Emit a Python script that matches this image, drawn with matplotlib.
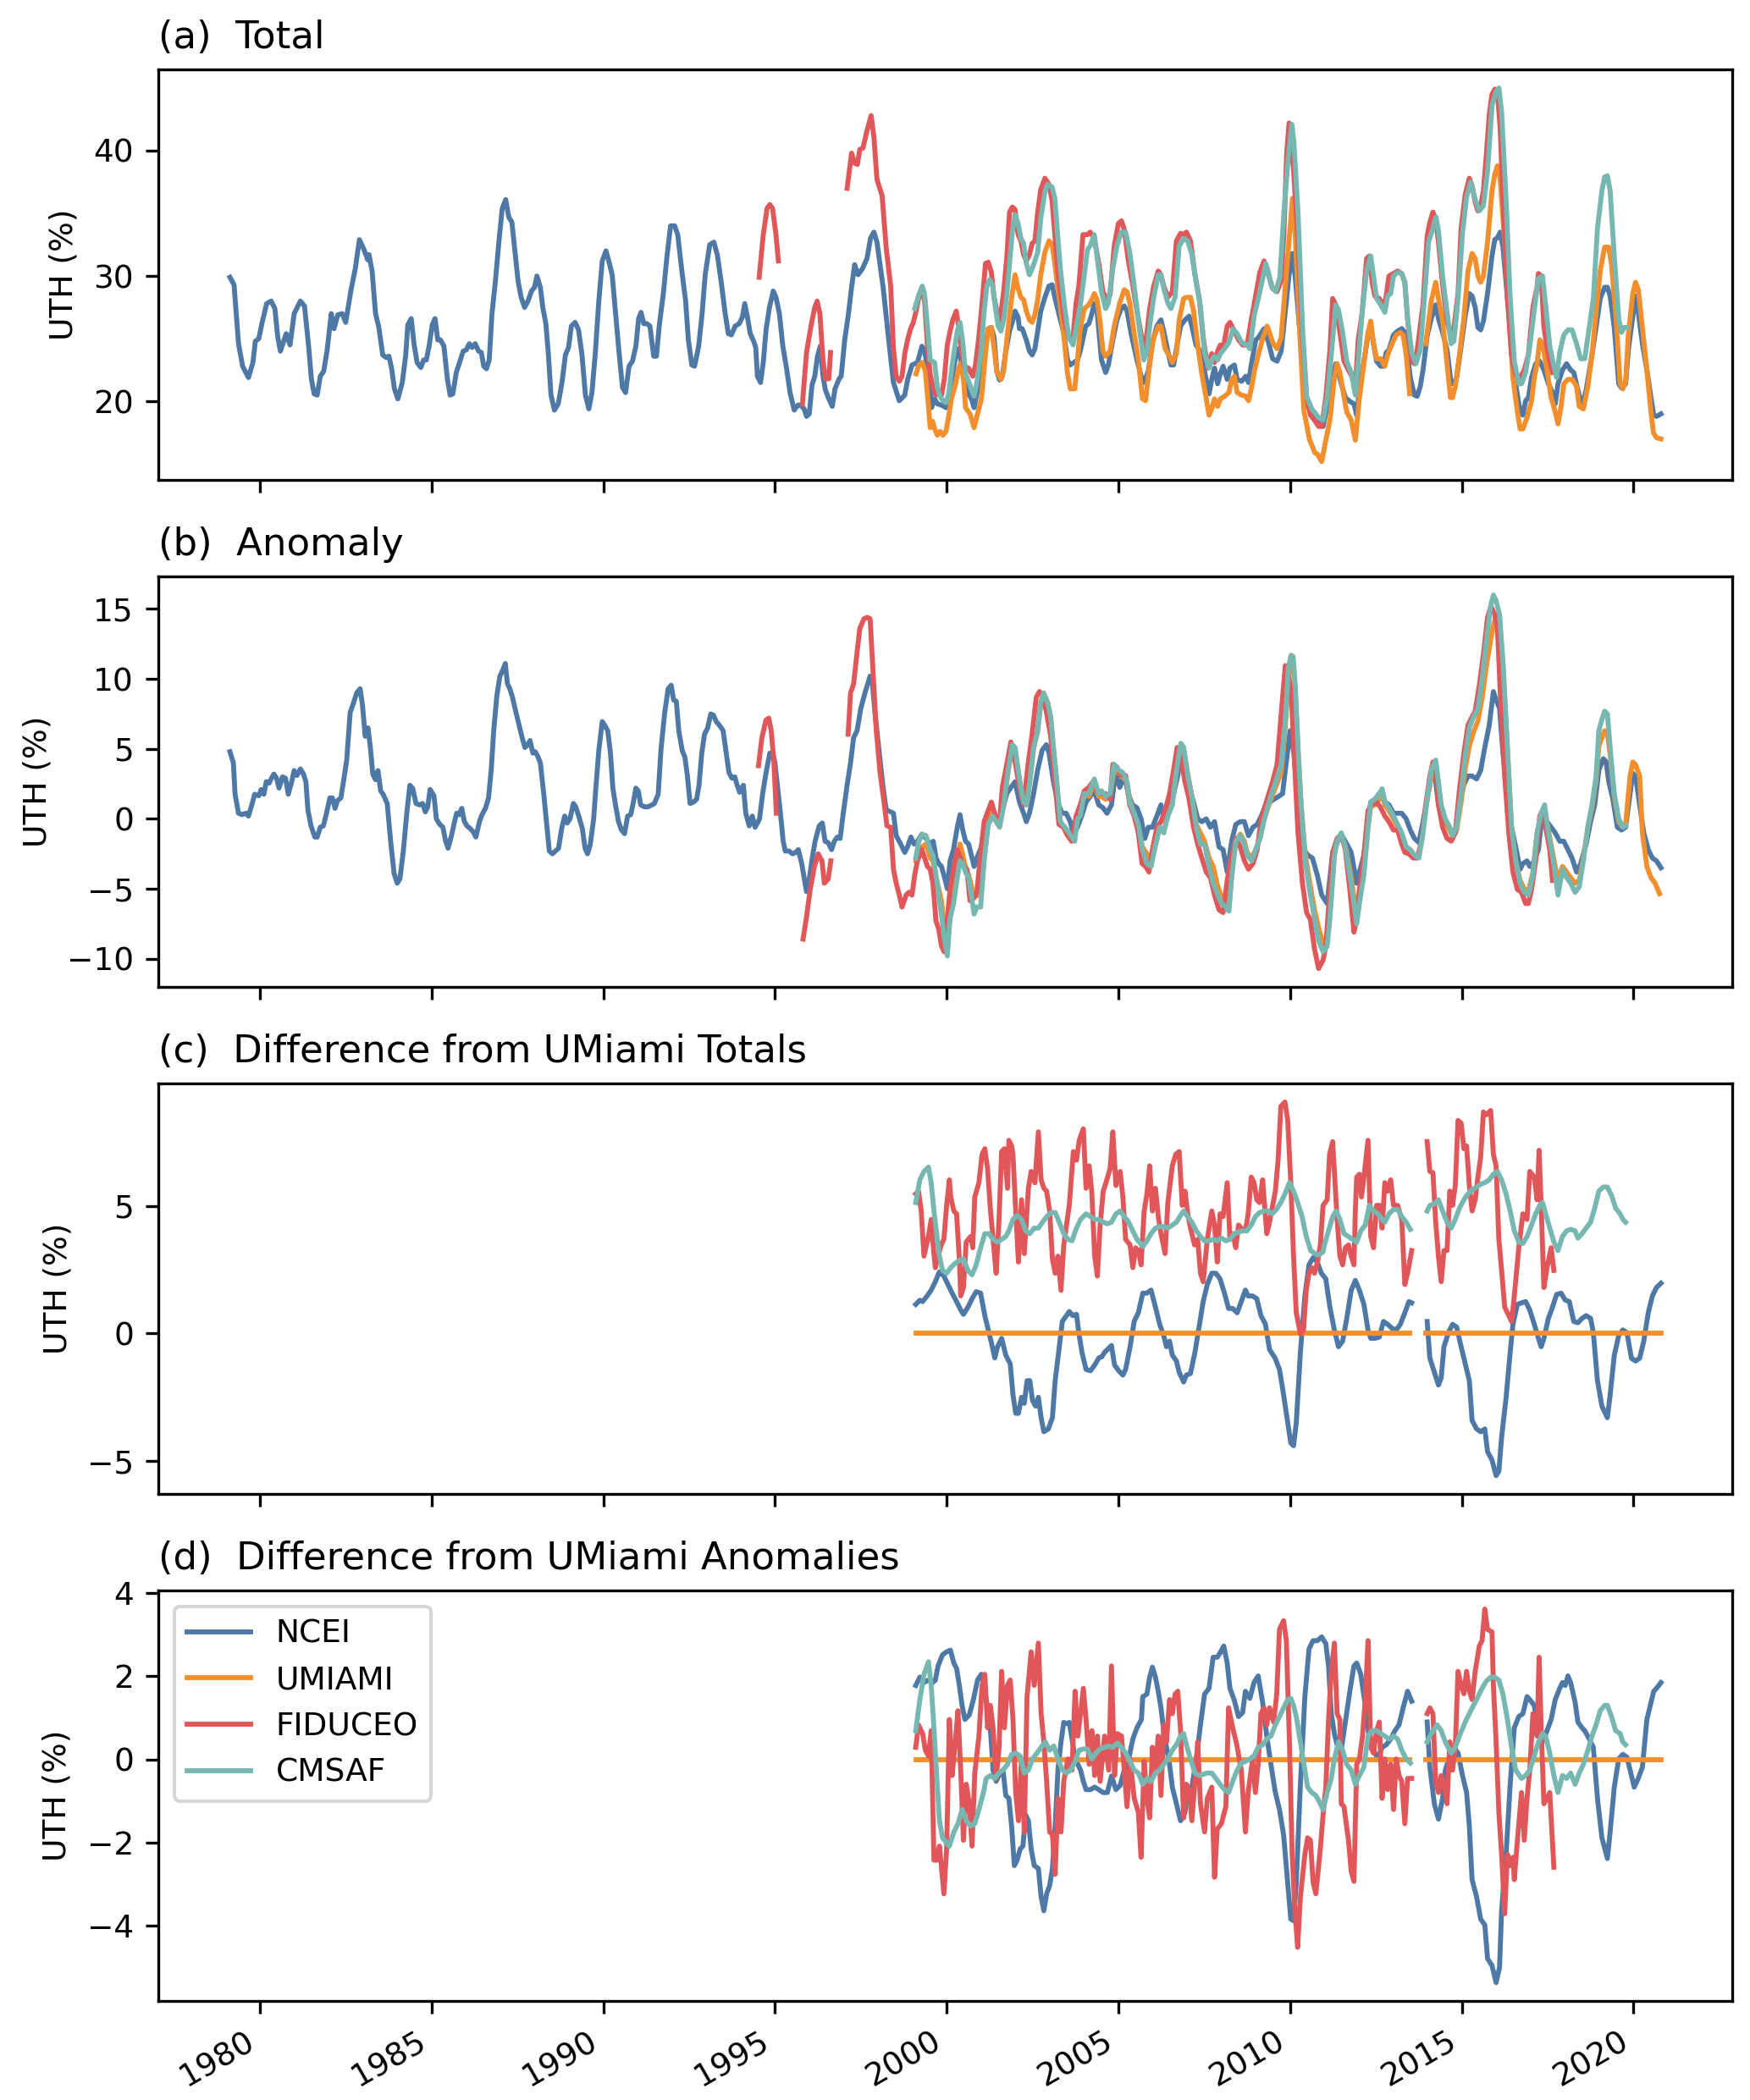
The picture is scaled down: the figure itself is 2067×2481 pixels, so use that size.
import datetime as dt

import numpy as np
import matplotlib
matplotlib.use("Agg")
import matplotlib.pyplot as plt
import matplotlib.dates as mdates

nan = np.nan

# ---- (a) total UTH, (decimal year, %) ----
A_NCEI = [
    (1979.13, 29.9), (1979.25, 29.3), (1979.38, 24.6), (1979.50, 22.8), (1979.67, 21.9), (1979.80, 23.1),
    (1979.87, 24.8), (1979.97, 25.0), (1980.07, 26.3), (1980.20, 27.8), (1980.33, 28.0), (1980.44, 27.4),
    (1980.52, 25.2), (1980.60, 24.0), (1980.77, 25.4), (1980.88, 24.5), (1981.00, 27.0), (1981.18, 28.0),
    (1981.30, 27.6), (1981.42, 24.4), (1981.50, 21.8), (1981.58, 20.6), (1981.67, 20.5), (1981.76, 22.0),
    (1981.86, 22.4), (1981.96, 24.1), (1982.08, 27.0), (1982.16, 25.8), (1982.27, 26.9), (1982.40, 27.0),
    (1982.50, 26.3), (1982.65, 28.8), (1982.78, 30.6), (1982.90, 32.9), (1983.02, 32.2), (1983.14, 31.3),
    (1983.18, 31.7), (1983.27, 30.4), (1983.37, 27.0), (1983.46, 26.0), (1983.58, 23.7), (1983.68, 23.5),
    (1983.76, 23.6), (1983.84, 22.6), (1983.92, 21.0), (1984.02, 20.2), (1984.15, 21.5), (1984.25, 23.7),
    (1984.31, 26.1), (1984.41, 26.6), (1984.49, 24.6), (1984.58, 23.1), (1984.69, 22.7), (1984.77, 23.3),
    (1984.85, 23.3), (1984.93, 24.4), (1985.02, 26.1), (1985.10, 26.6), (1985.18, 24.9), (1985.26, 24.9),
    (1985.36, 24.4), (1985.46, 21.8), (1985.54, 20.5), (1985.62, 20.6), (1985.72, 22.3), (1985.78, 22.8),
    (1985.92, 24.0), (1986.01, 24.1), (1986.10, 24.6), (1986.18, 24.3), (1986.27, 24.6), (1986.37, 24.0),
    (1986.45, 23.9), (1986.52, 22.8), (1986.60, 22.6), (1986.68, 23.3), (1986.76, 27.0), (1986.86, 29.6),
    (1986.96, 32.7), (1987.06, 35.4), (1987.16, 36.1), (1987.25, 34.7), (1987.34, 34.3), (1987.42, 32.2),
    (1987.52, 29.6), (1987.61, 28.3), (1987.71, 27.5), (1987.81, 28.0), (1987.91, 28.8), (1988.00, 29.1),
    (1988.07, 30.0), (1988.17, 29.1), (1988.24, 27.5), (1988.33, 26.2), (1988.40, 23.9), (1988.48, 20.5),
    (1988.58, 19.3), (1988.69, 19.8), (1988.80, 21.5), (1988.90, 23.7), (1988.99, 24.3), (1989.07, 26.0),
    (1989.18, 26.3), (1989.28, 25.7), (1989.38, 23.7), (1989.48, 20.5), (1989.58, 19.4), (1989.67, 20.7),
    (1989.77, 23.9), (1989.87, 28.0), (1989.97, 31.2), (1990.08, 32.0), (1990.16, 31.2), (1990.26, 30.1),
    (1990.36, 27.0), (1990.46, 23.9), (1990.56, 21.1), (1990.65, 20.7), (1990.75, 22.8), (1990.85, 23.2),
    (1990.95, 24.4), (1991.03, 26.6), (1991.10, 27.1), (1991.18, 26.2), (1991.27, 26.2), (1991.36, 26.0),
    (1991.47, 23.6), (1991.55, 23.6), (1991.63, 26.0), (1991.75, 28.6), (1991.85, 31.4), (1991.96, 34.0),
    (1992.08, 34.0), (1992.17, 33.3), (1992.29, 30.4), (1992.40, 28.0), (1992.48, 24.9), (1992.58, 22.9),
    (1992.66, 22.8), (1992.78, 24.4), (1992.88, 27.0), (1992.97, 30.1), (1993.10, 32.5), (1993.22, 32.7),
    (1993.32, 31.7), (1993.43, 29.6), (1993.55, 27.0), (1993.64, 25.4), (1993.73, 25.3), (1993.84, 26.0),
    (1993.96, 26.2), (1994.05, 26.7), (1994.12, 27.8), (1994.20, 26.7), (1994.28, 25.4), (1994.38, 24.8),
    (1994.44, 24.3), (1994.49, 22.0), (1994.58, 21.5), (1994.66, 23.1), (1994.74, 25.7), (1994.84, 27.5),
    (1994.95, 28.8), (1995.03, 28.3), (1995.13, 27.0), (1995.23, 24.4), (1995.34, 22.6), (1995.44, 20.7),
    (1995.56, 19.3), (1995.67, 19.7), (1995.75, 19.7), (1995.85, 19.4), (1995.92, 18.8), (1996.00, 19.0),
    (1996.08, 21.3), (1996.16, 22.0), (1996.24, 23.6), (1996.32, 24.4), (1996.40, 22.0), (1996.47, 20.9),
    (1996.57, 20.2), (1996.67, 19.6), (1996.75, 21.0), (1996.87, 21.8), (1996.93, 22.0), (1997.03, 24.9),
    (1997.14, 27.0), (1997.23, 29.1), (1997.32, 30.9), (1997.42, 30.1), (1997.55, 30.6), (1997.68, 31.4),
    (1997.78, 33.0), (1997.88, 33.5), (1997.97, 32.7), (1998.15, 29.1), (1998.30, 25.2), (1998.45, 21.5),
    (1998.62, 20.05), (1998.78, 20.5), (1998.86, 21.7), (1998.99, 22.9), (1999.15, 23.1), (1999.28, 24.4),
    (1999.36, 24.0), (1999.44, 22.65), (1999.52, 21.5), (1999.56, 19.5), (1999.65, 20.2), (1999.73, 19.8),
    (1999.85, 19.7), (1999.98, 19.5), (2000.06, 20.2), (2000.14, 21.5), (2000.22, 22.9), (2000.31, 24.2),
    (2000.39, 23.8), (2000.47, 22.2), (2000.59, 20.85), (2000.72, 20.2), (2000.80, 19.5), (2000.88, 20.6),
    (2001.01, 22.65), (2001.13, 24.2), (2001.21, 25.8), (2001.30, 25.9), (2001.38, 25.1), (2001.46, 22.4),
    (2001.54, 21.7), (2001.62, 22.0), (2001.71, 23.8), (2001.83, 25.6), (2001.93, 26.5), (2001.99, 27.2),
    (2002.08, 26.7), (2002.12, 25.8), (2002.20, 25.8), (2002.32, 24.9), (2002.41, 24.0), (2002.49, 23.7),
    (2002.57, 24.2), (2002.65, 25.6), (2002.74, 27.2), (2002.86, 28.3), (2002.98, 29.2), (2003.07, 29.3),
    (2003.15, 28.3), (2003.23, 27.4), (2003.31, 26.5), (2003.40, 25.6), (2003.52, 23.3), (2003.60, 22.9),
    (2003.81, 23.3), (2003.89, 24.0), (2004.05, 26.0), (2004.14, 26.2), (2004.22, 26.9), (2004.30, 27.8),
    (2004.38, 27.2), (2004.51, 23.3), (2004.63, 22.3), (2004.71, 22.9), (2004.84, 24.9), (2004.96, 26.5),
    (2005.08, 27.4), (2005.17, 27.6), (2005.25, 27.2), (2005.37, 25.4), (2005.54, 23.3), (2005.66, 22.0),
    (2005.74, 21.5), (2005.87, 22.4), (2005.99, 24.7), (2006.12, 26.0), (2006.24, 26.5), (2006.32, 25.6),
    (2006.44, 24.0), (2006.53, 22.9), (2006.61, 22.9), (2006.69, 24.2), (2006.81, 26.0), (2006.94, 26.5),
    (2007.06, 26.8), (2007.14, 26.0), (2007.26, 24.5), (2007.39, 24.0), (2007.51, 22.4), (2007.64, 20.6),
    (2007.72, 21.75), (2007.80, 22.65), (2007.89, 21.4), (2007.97, 22.2), (2008.05, 22.8), (2008.17, 21.75),
    (2008.25, 22.65), (2008.38, 22.9), (2008.46, 21.75), (2008.59, 21.6), (2008.71, 22.0), (2008.79, 21.5),
    (2008.87, 22.9), (2009.00, 24.9), (2009.08, 25.1), (2009.24, 25.8), (2009.37, 24.7), (2009.49, 23.4),
    (2009.62, 23.2), (2009.74, 24.0), (2009.86, 27.2), (2009.97, 30.1), (2010.07, 31.8), (2010.15, 29.9),
    (2010.27, 26.0), (2010.40, 22.65), (2010.50, 19.6), (2010.67, 19.15), (2010.83, 18.2), (2010.96, 18.0),
    (2011.08, 19.6), (2011.20, 21.4), (2011.33, 23.0), (2011.41, 22.3), (2011.49, 21.4), (2011.61, 20.3),
    (2011.74, 20.0), (2011.86, 19.8), (2011.94, 18.9), (2012.02, 21.0), (2012.15, 23.2), (2012.27, 25.3),
    (2012.35, 25.9), (2012.43, 24.6), (2012.52, 23.2), (2012.64, 22.8), (2012.72, 22.8), (2012.80, 23.9),
    (2012.88, 24.1), (2013.01, 25.3), (2013.13, 25.6), (2013.25, 25.8), (2013.34, 25.5), (2013.42, 23.7),
    (2013.50, 21.9), (2013.62, 20.5), (2013.70, 20.4), (2013.79, 21.2), (2013.87, 22.5), (2013.99, 25.2),
    (2014.11, 26.6), (2014.24, 27.7), (2014.32, 26.6), (2014.44, 25.5), (2014.57, 24.1), (2014.69, 21.4),
    (2014.77, 21.4), (2014.85, 21.9), (2014.98, 24.4), (2015.10, 26.8), (2015.22, 28.6), (2015.30, 28.4),
    (2015.39, 27.5), (2015.47, 25.9), (2015.55, 25.7), (2015.63, 26.4), (2015.75, 28.6), (2015.88, 31.6),
    (2015.96, 32.9), (2016.04, 33.05), (2016.12, 33.5), (2016.20, 32.3), (2016.33, 28.2), (2016.45, 24.8),
    (2016.57, 21.4), (2016.70, 19.15), (2016.78, 18.9), (2016.86, 20.05), (2016.94, 20.3), (2017.03, 21.9),
    (2017.15, 23.0), (2017.27, 23.2), (2017.39, 22.5), (2017.52, 21.4), (2017.64, 20.7), (2017.72, 19.8),
    (2017.80, 21.4), (2017.93, 22.5), (2018.05, 23.0), (2018.17, 22.5), (2018.26, 22.3), (2018.38, 20.9),
    (2018.50, 19.6), (2018.62, 20.9), (2018.79, 23.7), (2018.91, 25.9), (2019.03, 28.2), (2019.16, 29.1),
    (2019.24, 29.1), (2019.32, 28.4), (2019.44, 25.9), (2019.57, 21.4), (2019.65, 21.07), (2019.77, 21.4),
    (2019.85, 24.1), (2019.98, 26.8), (2020.06, 28.4), (2020.14, 27.1), (2020.26, 24.6), (2020.39, 22.5),
    (2020.51, 20.3), (2020.59, 18.9), (2020.67, 18.8), (2020.80, 19.0),
]

A_UMIAMI = [
    (1999.11, 22.2), (1999.19, 22.9), (1999.29, 23.1), (1999.38, 22.4), (1999.48, 19.3), (1999.52, 17.9),
    (1999.59, 18.4), (1999.65, 17.8), (1999.73, 17.3), (1999.81, 17.6), (1999.89, 17.3), (1999.98, 17.6),
    (2000.06, 18.8), (2000.14, 20.2), (2000.27, 21.5), (2000.35, 22.65), (2000.43, 23.1), (2000.50, 21.5),
    (2000.55, 19.5), (2000.68, 19.0), (2000.80, 17.9), (2000.88, 18.8), (2001.01, 20.2), (2001.13, 23.8),
    (2001.21, 25.8), (2001.30, 25.9), (2001.38, 24.2), (2001.46, 22.4), (2001.58, 21.75), (2001.66, 22.4),
    (2001.75, 24.9), (2001.87, 27.85), (2001.99, 30.1), (2002.08, 29.0), (2002.16, 28.3), (2002.24, 28.1),
    (2002.32, 27.2), (2002.41, 26.5), (2002.49, 26.3), (2002.57, 26.9), (2002.65, 28.1), (2002.74, 30.1),
    (2002.86, 31.9), (2002.98, 32.8), (2003.07, 32.5), (2003.15, 31.0), (2003.23, 29.2), (2003.31, 27.6),
    (2003.44, 24.5), (2003.52, 22.2), (2003.60, 21.0), (2003.73, 21.0), (2003.81, 23.3), (2003.89, 25.8),
    (2004.01, 27.4), (2004.14, 27.7), (2004.26, 28.3), (2004.30, 28.6), (2004.38, 28.1), (2004.47, 26.3),
    (2004.55, 24.0), (2004.63, 23.6), (2004.76, 24.0), (2004.88, 26.0), (2005.04, 27.85), (2005.17, 28.9),
    (2005.25, 28.75), (2005.33, 27.85), (2005.46, 25.4), (2005.58, 23.3), (2005.70, 20.2), (2005.79, 20.05),
    (2005.87, 22.0), (2005.95, 23.8), (2006.03, 25.1), (2006.16, 26.0), (2006.24, 26.0), (2006.36, 24.2),
    (2006.49, 23.6), (2006.57, 23.1), (2006.69, 23.8), (2006.77, 26.5), (2006.90, 28.2), (2006.98, 28.3),
    (2007.10, 28.3), (2007.19, 27.2), (2007.31, 24.5), (2007.43, 22.2), (2007.56, 20.2), (2007.64, 18.9),
    (2007.72, 19.4), (2007.80, 20.2), (2007.89, 19.6), (2007.97, 20.2), (2008.09, 20.4), (2008.22, 20.7),
    (2008.30, 21.75), (2008.38, 22.0), (2008.46, 20.7), (2008.59, 20.5), (2008.71, 20.4), (2008.79, 20.05),
    (2008.88, 21.1), (2008.96, 22.4), (2009.08, 23.8), (2009.21, 25.1), (2009.33, 26.0), (2009.41, 25.4),
    (2009.49, 24.7), (2009.62, 24.2), (2009.74, 25.1), (2009.86, 29.2), (2009.99, 33.5), (2010.07, 36.2),
    (2010.15, 33.3), (2010.27, 26.0), (2010.40, 19.3), (2010.56, 17.0), (2010.72, 15.9), (2010.79, 15.8),
    (2010.92, 15.2), (2011.04, 16.9), (2011.16, 18.5), (2011.29, 21.9), (2011.37, 23.0), (2011.45, 22.3),
    (2011.53, 21.0), (2011.65, 19.15), (2011.78, 18.5), (2011.90, 16.9), (2012.02, 20.3), (2012.15, 23.0),
    (2012.27, 25.5), (2012.35, 26.4), (2012.43, 24.6), (2012.52, 23.4), (2012.64, 23.4), (2012.76, 22.8),
    (2012.84, 23.7), (2012.97, 24.6), (2013.09, 25.3), (2013.21, 25.5), (2013.29, 25.3), (2013.38, 23.7),
    (2013.48, 20.6), (2013.72, nan), (2013.95, 24.6), (2014.11, 28.0), (2014.24, 29.5), (2014.32, 28.2),
    (2014.44, 26.4), (2014.57, 23.0), (2014.67, 20.3), (2014.73, 20.3), (2014.81, 21.2), (2014.93, 23.7),
    (2015.06, 26.6), (2015.18, 30.4), (2015.30, 31.8), (2015.39, 31.4), (2015.47, 30.0), (2015.55, 29.5),
    (2015.63, 30.0), (2015.75, 32.7), (2015.88, 36.8), (2015.96, 38.1), (2016.04, 38.8), (2016.12, 37.7),
    (2016.25, 32.7), (2016.37, 27.1), (2016.49, 21.9), (2016.62, 19.15), (2016.70, 17.8), (2016.78, 17.8),
    (2016.90, 18.7), (2017.03, 20.05), (2017.11, 21.9), (2017.19, 23.0), (2017.27, 24.9), (2017.35, 24.6),
    (2017.48, 22.5), (2017.60, 20.3), (2017.72, 19.15), (2017.80, 18.2), (2017.89, 19.6), (2017.97, 21.4),
    (2018.09, 21.75), (2018.21, 21.75), (2018.34, 21.2), (2018.42, 19.6), (2018.54, 19.4), (2018.67, 21.2),
    (2018.79, 23.7), (2018.91, 27.1), (2019.03, 30.4), (2019.16, 32.3), (2019.28, 32.3), (2019.36, 30.9),
    (2019.48, 27.1), (2019.61, 21.4), (2019.69, 21.0), (2019.77, 21.6), (2019.85, 25.3), (2019.98, 28.6),
    (2020.06, 29.5), (2020.14, 28.9), (2020.26, 25.9), (2020.39, 22.5), (2020.51, 19.15), (2020.58, 17.5),
    (2020.67, 17.1), (2020.80, 17.0),
]

A_FIDUCEO = [
    (1994.54, 29.9), (1994.66, 33.3), (1994.77, 35.4), (1994.85, 35.7), (1994.93, 35.4), (1995.03, 33.3),
    (1995.10, 31.2), (1995.45, nan),
    (1995.80, 19.8), (1995.92, 23.9), (1996.05, 26.0), (1996.16, 27.5), (1996.23, 28.0), (1996.31, 27.0),
    (1996.40, 23.3), (1996.47, 21.8), (1996.57, 21.8), (1996.62, 23.9), (1996.85, nan),
    (1997.10, 37.0), (1997.23, 39.8), (1997.32, 39.0), (1997.40, 38.9), (1997.47, 40.1), (1997.56, 40.2),
    (1997.68, 41.6), (1997.80, 42.8), (1997.88, 41.1), (1997.97, 37.7), (1998.12, 36.4), (1998.24, 32.2),
    (1998.37, 29.2), (1998.45, 24.2), (1998.53, 22.0), (1998.62, 21.6), (1998.70, 22.0), (1998.78, 23.8),
    (1998.86, 24.9), (1998.95, 25.8), (1999.03, 26.3), (1999.11, 27.2), (1999.19, 28.3), (1999.29, 29.0),
    (1999.36, 27.85), (1999.44, 24.5), (1999.52, 22.2), (1999.60, 21.1), (1999.69, 20.5), (1999.77, 20.7),
    (1999.85, 20.5), (1999.93, 21.75), (2000.02, 24.5), (2000.10, 25.6), (2000.18, 26.5), (2000.28, 27.2),
    (2000.35, 26.0), (2000.43, 24.0), (2000.51, 22.8), (2000.64, 22.65), (2000.76, 22.0), (2000.84, 22.9),
    (2000.92, 24.7), (2001.01, 27.2), (2001.13, 31.0), (2001.21, 31.1), (2001.30, 30.3), (2001.38, 28.3),
    (2001.46, 27.2), (2001.54, 26.3), (2001.66, 28.75), (2001.75, 31.5), (2001.83, 35.1), (2001.91, 35.5),
    (2001.99, 35.3), (2002.08, 33.3), (2002.16, 32.8), (2002.24, 31.7), (2002.32, 31.2), (2002.41, 31.7),
    (2002.49, 32.6), (2002.57, 32.8), (2002.65, 35.1), (2002.74, 36.9), (2002.86, 37.8), (2002.98, 37.3),
    (2003.07, 36.0), (2003.15, 33.3), (2003.23, 30.6), (2003.31, 28.75), (2003.44, 26.3), (2003.56, 25.1),
    (2003.68, 25.1), (2003.77, 27.85), (2003.85, 29.2), (2003.97, 33.3), (2004.10, 33.3), (2004.18, 33.5),
    (2004.30, 33.0), (2004.43, 31.0), (2004.55, 28.75), (2004.67, 28.1), (2004.76, 28.5), (2004.88, 32.4),
    (2005.00, 34.2), (2005.09, 34.4), (2005.17, 33.7), (2005.29, 31.2), (2005.41, 29.4), (2005.54, 27.2),
    (2005.66, 25.4), (2005.74, 24.0), (2005.83, 25.4), (2005.91, 27.4), (2006.03, 29.2), (2006.16, 30.4),
    (2006.24, 30.1), (2006.32, 29.2), (2006.44, 28.3), (2006.57, 28.75), (2006.69, 32.8), (2006.81, 33.4),
    (2006.90, 33.3), (2006.98, 33.5), (2007.10, 32.8), (2007.23, 30.1), (2007.35, 28.3), (2007.47, 25.1),
    (2007.60, 22.65), (2007.72, 23.8), (2007.80, 23.1), (2007.89, 24.0), (2007.97, 24.5), (2008.05, 24.2),
    (2008.17, 26.0), (2008.25, 26.3), (2008.38, 25.6), (2008.50, 24.9), (2008.62, 24.5), (2008.75, 24.5),
    (2008.87, 26.5), (2008.99, 28.3), (2009.12, 30.3), (2009.24, 31.2), (2009.37, 30.1), (2009.49, 29.0),
    (2009.62, 28.75), (2009.74, 29.6), (2009.82, 33.5), (2009.90, 39.8), (2009.97, 42.2), (2010.10, 38.5),
    (2010.23, 32.8), (2010.36, 25.1), (2010.48, 20.4), (2010.59, 18.9), (2010.71, 18.5), (2010.83, 18.0),
    (2010.92, 18.0), (2011.04, 20.3), (2011.16, 24.1), (2011.24, 28.2), (2011.33, 27.7), (2011.45, 25.5),
    (2011.57, 23.2), (2011.70, 22.5), (2011.82, 21.9), (2011.90, 21.0), (2011.98, 24.8), (2012.10, 27.1),
    (2012.23, 31.4), (2012.31, 31.6), (2012.39, 29.5), (2012.47, 28.4), (2012.60, 28.2), (2012.72, 27.5),
    (2012.80, 28.4), (2012.88, 30.0), (2013.01, 30.2), (2013.13, 30.4), (2013.25, 30.2), (2013.34, 29.5),
    (2013.42, 26.6), (2013.54, 23.2), (2013.62, 23.0), (2013.70, 24.1), (2013.87, 27.7), (2013.99, 33.2),
    (2014.07, 34.3), (2014.16, 35.1), (2014.24, 34.5), (2014.32, 32.7), (2014.44, 29.3), (2014.57, 26.4),
    (2014.65, 25.5), (2014.77, 25.9), (2014.89, 28.6), (2014.98, 33.8), (2015.10, 36.5), (2015.22, 37.8),
    (2015.30, 37.2), (2015.39, 35.9), (2015.47, 35.2), (2015.55, 35.6), (2015.63, 36.8), (2015.71, 39.5),
    (2015.80, 42.9), (2015.88, 44.5), (2015.96, 44.9), (2016.04, 44.7), (2016.12, 41.7), (2016.20, 36.1),
    (2016.33, 28.2), (2016.45, 23.7), (2016.57, 22.1), (2016.70, 21.9), (2016.82, 22.5), (2016.94, 23.7),
    (2017.07, 27.5), (2017.19, 29.1), (2017.23, 30.2), (2017.31, 30.0), (2017.39, 25.9), (2017.52, 23.7),
    (2017.64, 22.3),
]

A_CMSAF = [
    (1999.07, 27.4), (1999.19, 28.5), (1999.29, 29.2), (1999.36, 28.5), (1999.44, 26.0), (1999.52, 23.3),
    (1999.65, 23.1), (1999.73, 21.1), (1999.81, 20.4), (1999.89, 20.05), (1999.98, 19.9), (2000.06, 20.6),
    (2000.14, 22.4), (2000.22, 24.0), (2000.31, 25.6), (2000.39, 26.3), (2000.47, 24.7), (2000.55, 22.2),
    (2000.68, 21.3), (2000.80, 20.4), (2000.88, 21.5), (2001.01, 24.2), (2001.09, 27.2), (2001.17, 29.2),
    (2001.25, 29.7), (2001.34, 29.2), (2001.42, 27.4), (2001.50, 26.0), (2001.58, 25.6), (2001.66, 26.5),
    (2001.75, 28.5), (2001.83, 31.0), (2001.91, 33.5), (2001.99, 34.9), (2002.08, 34.2), (2002.16, 33.0),
    (2002.24, 32.6), (2002.32, 31.0), (2002.41, 30.1), (2002.49, 30.6), (2002.57, 31.2), (2002.65, 31.9),
    (2002.74, 34.6), (2002.86, 36.7), (2002.94, 37.3), (2003.07, 37.1), (2003.15, 36.2), (2003.23, 33.3),
    (2003.31, 30.6), (2003.44, 27.4), (2003.56, 25.1), (2003.68, 24.5), (2003.81, 26.5), (2003.89, 27.6),
    (2004.01, 30.1), (2004.10, 32.1), (2004.18, 32.4), (2004.30, 33.3), (2004.38, 31.5), (2004.51, 28.75),
    (2004.63, 27.4), (2004.71, 27.85), (2004.84, 30.6), (2004.96, 32.4), (2005.08, 33.5), (2005.21, 33.5),
    (2005.33, 31.9), (2005.46, 29.2), (2005.62, 25.6), (2005.74, 23.3), (2005.83, 24.0), (2005.91, 26.0),
    (2006.03, 28.3), (2006.16, 30.1), (2006.24, 30.1), (2006.32, 29.0), (2006.44, 27.85), (2006.53, 27.4),
    (2006.65, 28.3), (2006.77, 32.4), (2006.90, 33.0), (2007.02, 32.8), (2007.14, 31.7), (2007.27, 29.4),
    (2007.39, 27.6), (2007.51, 23.8), (2007.64, 22.65), (2007.72, 23.3), (2007.80, 23.6), (2007.89, 23.3),
    (2007.97, 23.8), (2008.09, 24.2), (2008.22, 24.7), (2008.34, 25.8), (2008.46, 25.4), (2008.59, 24.7),
    (2008.75, 24.5), (2008.83, 24.2), (2008.96, 26.9), (2009.08, 28.3), (2009.21, 29.9), (2009.29, 31.0),
    (2009.37, 30.3), (2009.45, 29.2), (2009.58, 28.75), (2009.70, 29.9), (2009.82, 35.1), (2009.95, 39.6),
    (2010.05, 42.1), (2010.11, 40.7), (2010.23, 35.1), (2010.36, 26.0), (2010.48, 20.4), (2010.65, 19.3),
    (2010.71, 19.15), (2010.83, 18.7), (2010.96, 18.5), (2011.08, 20.3), (2011.20, 23.7), (2011.33, 27.7),
    (2011.41, 27.3), (2011.53, 25.5), (2011.65, 23.2), (2011.78, 22.3), (2011.90, 20.5), (2011.98, 23.0),
    (2012.10, 27.1), (2012.23, 30.4), (2012.35, 31.6), (2012.43, 30.0), (2012.52, 28.2), (2012.64, 27.7),
    (2012.76, 27.1), (2012.84, 28.4), (2012.93, 28.6), (2013.01, 30.0), (2013.13, 30.3), (2013.25, 30.2),
    (2013.34, 29.5), (2013.42, 26.6), (2013.54, 23.9), (2013.66, 23.0), (2013.79, 24.1), (2013.91, 28.2),
    (2014.03, 32.7), (2014.16, 33.8), (2014.25, 34.7), (2014.32, 33.6), (2014.44, 30.0), (2014.57, 27.1),
    (2014.69, 24.6), (2014.77, 24.8), (2014.89, 28.2), (2015.02, 33.4), (2015.14, 36.3), (2015.26, 37.5),
    (2015.39, 36.1), (2015.51, 35.2), (2015.63, 35.6), (2015.75, 38.4), (2015.88, 43.6), (2016.00, 44.7),
    (2016.08, 45.0), (2016.16, 43.1), (2016.29, 36.1), (2016.41, 28.2), (2016.53, 23.2), (2016.66, 21.4),
    (2016.74, 21.4), (2016.86, 22.3), (2016.98, 24.4), (2017.11, 27.3), (2017.23, 29.8), (2017.35, 30.0),
    (2017.44, 27.7), (2017.56, 24.4), (2017.68, 22.8), (2017.76, 21.9), (2017.85, 23.9), (2017.97, 25.3),
    (2018.09, 25.7), (2018.21, 25.7), (2018.34, 24.6), (2018.46, 23.4), (2018.58, 23.4), (2018.71, 25.9),
    (2018.83, 28.2), (2018.95, 33.8), (2019.08, 36.8), (2019.16, 37.9), (2019.24, 38.0), (2019.32, 36.8),
    (2019.44, 31.6), (2019.57, 26.6), (2019.65, 25.5), (2019.73, 25.9), (2019.81, 25.9),
]

# ---- (b) anomalies ----
B_NCEI = [
    (1979.13, 4.8), (1979.23, 4.0), (1979.28, 1.76), (1979.38, 0.4), (1979.48, 0.3), (1979.60, 0.4),
    (1979.67, 0.2), (1979.78, 1.1), (1979.85, 1.76), (1979.97, 1.65), (1980.04, 2.1), (1980.12, 1.76),
    (1980.19, 2.66), (1980.27, 2.55), (1980.34, 2.9), (1980.41, 3.2), (1980.49, 2.9), (1980.56, 2.2),
    (1980.66, 3.0), (1980.75, 2.9), (1980.83, 1.76), (1980.93, 2.66), (1981.00, 3.45), (1981.08, 3.1),
    (1981.18, 3.57), (1981.27, 3.2), (1981.34, 2.66), (1981.40, 0.63), (1981.49, -0.5), (1981.60, -1.3),
    (1981.67, -1.3), (1981.76, -0.6), (1981.85, -0.5), (1981.94, 0.4), (1982.04, 1.5), (1982.11, 1.5),
    (1982.19, 0.75), (1982.26, 1.3), (1982.36, 1.5), (1982.45, 2.9), (1982.53, 4.2), (1982.63, 7.6),
    (1982.73, 8.3), (1982.82, 9.0), (1982.92, 9.3), (1982.99, 8.1), (1983.07, 5.9), (1983.15, 6.5),
    (1983.22, 5.1), (1983.29, 3.2), (1983.37, 2.8), (1983.44, 3.45), (1983.52, 2.0), (1983.59, 1.76),
    (1983.71, 1.1), (1983.81, -1.6), (1983.91, -3.9), (1984.00, -4.6), (1984.08, -4.3), (1984.18, -2.3),
    (1984.28, 0.4), (1984.37, 2.4), (1984.45, 2.2), (1984.55, 1.1), (1984.65, 1.0), (1984.74, 1.1),
    (1984.82, 0.5), (1984.89, 0.86), (1984.96, 2.1), (1985.07, 1.65), (1985.14, 0.0), (1985.24, -0.4),
    (1985.33, -0.6), (1985.41, -1.6), (1985.48, -2.1), (1985.58, -1.2), (1985.66, -0.3), (1985.73, 0.4),
    (1985.80, 0.3), (1985.88, 0.75), (1985.95, -0.16), (1986.03, -0.5), (1986.13, -0.7), (1986.22, -0.95),
    (1986.29, -1.3), (1986.40, -0.16), (1986.47, 0.3), (1986.57, 0.75), (1986.66, 1.5), (1986.74, 3.57),
    (1986.81, 6.3), (1986.90, 8.76), (1986.99, 10.2), (1987.07, 10.6), (1987.15, 11.1), (1987.21, 9.66),
    (1987.28, 9.3), (1987.35, 8.76), (1987.46, 7.6), (1987.55, 6.7), (1987.64, 5.8), (1987.72, 5.1),
    (1987.80, 5.3), (1987.87, 5.6), (1987.95, 4.7), (1988.02, 4.8), (1988.09, 4.5), (1988.17, 4.0),
    (1988.27, 1.76), (1988.36, -0.5), (1988.43, -2.3), (1988.52, -2.5), (1988.61, -2.3), (1988.70, -2.1),
    (1988.79, -0.7), (1988.88, 0.2), (1988.95, -0.3), (1989.03, 0.0), (1989.13, 1.1), (1989.20, 0.86),
    (1989.31, 0.0), (1989.39, -0.7), (1989.47, -2.1), (1989.54, -2.5), (1989.62, -1.85), (1989.72, 0.0),
    (1989.79, 2.4), (1989.87, 4.9), (1989.97, 6.95), (1990.04, 6.7), (1990.13, 6.3), (1990.21, 4.7),
    (1990.28, 2.2), (1990.35, 1.1), (1990.44, -0.16), (1990.53, -0.8), (1990.62, -1.06), (1990.71, 0.2),
    (1990.80, 0.3), (1990.87, 1.1), (1990.95, 2.2), (1991.02, 2.0), (1991.09, 1.0), (1991.20, 0.86),
    (1991.30, 0.86), (1991.42, 1.0), (1991.49, 1.1), (1991.60, 1.76), (1991.68, 4.9), (1991.79, 7.6),
    (1991.89, 9.3), (1991.98, 9.55), (1992.05, 8.5), (1992.13, 8.4), (1992.20, 6.3), (1992.30, 4.9),
    (1992.38, 4.4), (1992.45, 3.1), (1992.53, 1.1), (1992.63, 1.2), (1992.72, 1.4), (1992.79, 2.4),
    (1992.87, 4.7), (1992.95, 6.05), (1993.04, 6.5), (1993.13, 7.5), (1993.21, 7.4), (1993.29, 6.95),
    (1993.38, 6.7), (1993.49, 6.3), (1993.57, 4.9), (1993.66, 3.3), (1993.75, 2.9), (1993.83, 3.0),
    (1993.90, 2.4), (1993.97, 1.9), (1994.08, 2.4), (1994.15, 0.4), (1994.25, -0.5), (1994.34, 0.2),
    (1994.42, -0.6), (1994.49, -0.3), (1994.55, 0.0), (1994.64, 1.76), (1994.74, 3.3), (1994.85, 4.7),
    (1994.94, 4.7), (1995.00, 4.0), (1995.09, 2.0), (1995.16, 0.4), (1995.24, -1.6), (1995.30, -2.3),
    (1995.41, -2.3), (1995.51, -2.5), (1995.60, -2.4), (1995.68, -2.2), (1995.78, -3.2), (1995.85, -4.2),
    (1995.92, -5.2), (1996.00, -4.3), (1996.09, -2.75), (1996.17, -1.6), (1996.29, -0.5), (1996.38, -0.3),
    (1996.46, -1.6), (1996.55, -1.7), (1996.65, -2.2), (1996.73, -1.6), (1996.82, -1.3), (1996.90, -1.4),
    (1996.99, 0.4), (1997.10, 2.4), (1997.20, 4.0), (1997.29, 5.8), (1997.39, 6.3), (1997.50, 7.9),
    (1997.62, 9.0), (1997.77, 10.2), (1997.84, 9.66), (1997.91, 7.6), (1998.03, 4.9), (1998.14, 2.4),
    (1998.24, 0.63), (1998.37, 0.5), (1998.45, 0.4), (1998.53, -1.2), (1998.66, -1.8), (1998.78, -2.4),
    (1998.86, -2.0), (1998.96, -1.3), (1999.05, -1.8), (1999.15, -1.6), (1999.28, -1.1), (1999.40, -1.4),
    (1999.52, -1.8), (1999.61, -1.6), (1999.69, -2.8), (1999.77, -3.2), (1999.85, -3.4), (1999.94, -4.2),
    (2000.02, -5.0), (2000.10, -3.0), (2000.20, -2.2), (2000.31, -0.6), (2000.39, 0.3), (2000.47, -0.8),
    (2000.55, -1.6), (2000.64, -1.8), (2000.72, -2.6), (2000.80, -3.4), (2000.88, -2.8), (2001.01, -2.0),
    (2001.13, 0.0), (2001.25, 0.8), (2001.38, 0.4), (2001.50, -0.4), (2001.62, 0.6), (2001.75, 1.8),
    (2001.87, 2.25), (2001.99, 2.65), (2002.12, 1.2), (2002.24, 0.4), (2002.32, -0.2), (2002.41, 0.4),
    (2002.53, 1.8), (2002.65, 3.5), (2002.78, 4.9), (2002.90, 5.3), (2002.98, 4.7), (2003.11, 2.65),
    (2003.23, 1.2), (2003.36, 0.4), (2003.48, 0.4), (2003.60, -0.2), (2003.68, -1.0), (2003.81, -0.6),
    (2003.93, 0.2), (2004.06, 1.2), (2004.18, 1.6), (2004.30, 2.0), (2004.43, 1.0), (2004.55, 0.8),
    (2004.67, 0.4), (2004.80, 1.0), (2004.92, 3.3), (2005.04, 2.25), (2005.17, 3.1), (2005.29, 1.8),
    (2005.41, 1.0), (2005.54, 0.8), (2005.66, 0.0), (2005.77, -1.4), (2005.87, -0.6), (2005.99, -0.6),
    (2006.12, 0.2), (2006.24, 1.0), (2006.32, 0.0), (2006.44, 1.0), (2006.61, 1.8), (2006.73, 3.1),
    (2006.82, 4.7), (2006.94, 3.5), (2007.06, 2.25), (2007.19, 1.2), (2007.31, 0.0), (2007.43, -0.2),
    (2007.56, 0.0), (2007.68, -0.6), (2007.80, -0.2), (2007.93, -2.0), (2008.05, -2.2), (2008.17, -3.8),
    (2008.30, -1.6), (2008.42, -0.4), (2008.55, -0.2), (2008.67, -0.2), (2008.79, -1.2), (2008.92, -0.6),
    (2009.04, -0.4), (2009.16, 0.2), (2009.29, 1.0), (2009.41, 1.2), (2009.53, 1.4), (2009.66, 1.6),
    (2009.78, 1.8), (2009.90, 4.3), (2010.00, 6.3), (2010.11, 4.7), (2010.24, 1.0), (2010.40, -2.2),
    (2010.52, -2.6), (2010.65, -2.8), (2010.79, -4.0), (2010.92, -5.45), (2011.08, -6.05), (2011.24, -2.4),
    (2011.49, -1.1), (2011.65, -1.8), (2011.78, -2.4), (2011.94, -4.6), (2012.02, -3.8), (2012.15, -2.6),
    (2012.27, -0.2), (2012.35, 1.2), (2012.47, 1.4), (2012.60, 1.8), (2012.68, 2.0), (2012.76, 1.2),
    (2012.88, 1.0), (2013.01, 0.4), (2013.13, 0.4), (2013.25, 0.4), (2013.38, 0.0), (2013.50, -0.8),
    (2013.62, -1.4), (2013.75, -1.7), (2013.87, -0.2), (2013.99, 1.4), (2014.11, 3.06), (2014.20, 3.46),
    (2014.32, 1.0), (2014.40, 0.4), (2014.52, -0.2), (2014.65, -0.8), (2014.73, -1.2), (2014.81, -1.0),
    (2014.93, 1.0), (2015.06, 2.45), (2015.18, 3.06), (2015.30, 3.06), (2015.43, 2.85), (2015.55, 3.46),
    (2015.67, 5.1), (2015.80, 6.7), (2015.92, 9.1), (2016.00, 8.5), (2016.10, 7.9), (2016.20, 4.7),
    (2016.33, 1.4), (2016.45, -0.6), (2016.57, -2.0), (2016.70, -3.6), (2016.78, -3.2), (2016.90, -3.0),
    (2016.98, -3.4), (2017.11, -3.0), (2017.23, -2.2), (2017.31, -0.4), (2017.39, 0.2), (2017.48, -0.2),
    (2017.60, -0.6), (2017.72, -1.0), (2017.85, -1.6), (2017.97, -1.6), (2018.09, -2.2), (2018.21, -2.8),
    (2018.34, -3.8), (2018.46, -3.2), (2018.62, -1.8), (2018.75, -0.2), (2018.87, 1.0), (2018.99, 3.46),
    (2019.12, 4.3), (2019.20, 4.1), (2019.28, 2.65), (2019.40, 1.4), (2019.53, -0.6), (2019.65, -0.8),
    (2019.77, -0.6), (2019.90, 1.8), (2019.98, 3.26), (2020.06, 3.06), (2020.18, 1.0), (2020.30, -1.0),
    (2020.43, -2.2), (2020.55, -2.8), (2020.67, -3.0), (2020.80, -3.5),
]

B_UMIAMI = [
    (1999.11, -3.0), (1999.19, -2.4), (1999.29, -2.0), (1999.40, -1.8), (1999.52, -2.8), (1999.60, -3.0),
    (1999.69, -4.2), (1999.77, -5.0), (1999.85, -5.9), (1999.94, -8.0), (2000.02, -9.0), (2000.10, -7.0),
    (2000.20, -5.0), (2000.31, -3.0), (2000.39, -1.8), (2000.47, -2.6), (2000.55, -3.5), (2000.64, -4.0),
    (2000.72, -4.8), (2000.80, -5.4), (2000.88, -5.5), (2001.00, -5.4), (2001.09, -2.8), (2001.21, -0.3),
    (2001.34, 0.6), (2001.44, -0.1), (2001.54, -0.5), (2001.66, 1.0), (2001.79, 3.4), (2001.91, 5.2),
    (2001.99, 5.0), (2002.08, 3.4), (2002.16, 2.2), (2002.24, 1.1), (2002.32, 1.0), (2002.41, 2.4),
    (2002.53, 5.0), (2002.65, 6.3), (2002.74, 8.2), (2002.82, 9.0), (2002.94, 8.3), (2003.03, 7.2),
    (2003.11, 5.0), (2003.19, 3.0), (2003.31, -0.3), (2003.44, -0.6), (2003.56, -1.0), (2003.73, -1.2),
    (2003.81, 0.0), (2003.89, 0.4), (2004.01, 1.8), (2004.14, 1.6), (2004.30, 2.5), (2004.43, 1.6),
    (2004.51, 1.6), (2004.63, 1.4), (2004.76, 1.6), (2004.88, 3.6), (2005.00, 3.3), (2005.13, 3.0),
    (2005.25, 2.6), (2005.33, 1.4), (2005.46, 0.2), (2005.58, -0.6), (2005.70, -2.0), (2005.83, -2.5),
    (2005.95, -3.0), (2006.07, -2.0), (2006.20, -0.6), (2006.32, -0.9), (2006.44, 0.3), (2006.57, 1.1),
    (2006.69, 3.4), (2006.82, 5.2), (2006.90, 5.0), (2007.02, 3.2), (2007.14, 1.6), (2007.27, -0.4),
    (2007.39, -1.0), (2007.51, -1.6), (2007.64, -2.8), (2007.76, -3.4), (2007.89, -4.8), (2008.01, -5.6),
    (2008.13, -6.0), (2008.22, -6.3), (2008.30, -4.0), (2008.42, -1.6), (2008.55, -1.1), (2008.67, -1.6),
    (2008.75, -2.4), (2008.88, -2.8), (2009.00, -2.2), (2009.12, -1.4), (2009.25, 0.0), (2009.41, 1.2),
    (2009.58, 2.3), (2009.74, 3.3), (2009.86, 6.6), (2009.95, 10.0), (2010.03, 11.4), (2010.09, 11.2),
    (2010.15, 9.2), (2010.23, 5.0), (2010.32, 1.0), (2010.44, -2.5), (2010.56, -4.4), (2010.71, -6.5),
    (2010.83, -7.8), (2010.96, -8.9), (2011.08, -8.7), (2011.16, -6.8), (2011.29, -2.6), (2011.37, -1.6),
    (2011.49, -1.1), (2011.61, -2.0), (2011.74, -3.6), (2011.86, -5.6), (2011.94, -7.0), (2012.02, -5.8),
    (2012.15, -3.8), (2012.27, -0.6), (2012.35, 0.9), (2012.47, 1.0), (2012.60, 1.4), (2012.68, 1.8),
    (2012.76, 1.0), (2012.88, 0.6), (2013.01, 0.0), (2013.13, -0.6), (2013.25, -1.2), (2013.38, -2.0),
    (2013.48, -2.2), (2013.72, nan), (2013.95, 0.8), (2014.11, 3.0), (2014.24, 3.9), (2014.32, 2.4),
    (2014.40, 0.8), (2014.52, -0.2), (2014.65, -0.8), (2014.73, -1.3), (2014.85, -0.8), (2014.98, 1.2),
    (2015.10, 3.6), (2015.22, 5.2), (2015.34, 6.2), (2015.47, 7.0), (2015.59, 8.6), (2015.71, 10.8),
    (2015.84, 12.8), (2015.92, 13.8), (2016.00, 14.6), (2016.10, 14.2), (2016.20, 11.0), (2016.33, 5.0),
    (2016.45, -0.6), (2016.57, -3.0), (2016.70, -4.4), (2016.82, -5.0), (2016.94, -5.2), (2017.07, -3.8),
    (2017.19, -1.0), (2017.31, 0.2), (2017.41, 0.6), (2017.52, -0.8), (2017.64, -2.4), (2017.72, -3.4),
    (2017.80, -4.4), (2017.93, -3.4), (2018.05, -3.8), (2018.17, -4.2), (2018.30, -4.6), (2018.42, -4.4),
    (2018.54, -2.8), (2018.67, -0.6), (2018.79, 0.8), (2018.91, 2.8), (2018.99, 5.2), (2019.08, 5.8),
    (2019.16, 6.3), (2019.24, 6.1), (2019.32, 4.6), (2019.44, 1.6), (2019.57, -0.2), (2019.69, -0.6),
    (2019.77, -0.4), (2019.90, 3.06), (2019.98, 4.07), (2020.06, 3.87), (2020.18, 3.06), (2020.26, -1.0),
    (2020.39, -3.4), (2020.51, -4.2), (2020.63, -4.6), (2020.76, -5.35),
]

B_FIDUCEO = [
    (1994.52, 3.8), (1994.62, 5.8), (1994.74, 7.07), (1994.82, 7.2), (1994.89, 6.3), (1994.97, 4.0),
    (1995.04, 0.4), (1995.45, nan),
    (1995.82, -8.6), (1995.92, -7.0), (1996.03, -5.0), (1996.15, -3.4), (1996.26, -2.5), (1996.37, -3.0),
    (1996.44, -4.6), (1996.55, -4.3), (1996.63, -3.0), (1996.85, nan),
    (1997.13, 6.05), (1997.20, 9.0), (1997.29, 9.66), (1997.39, 11.9), (1997.47, 13.6), (1997.59, 14.3),
    (1997.69, 14.4), (1997.77, 14.3), (1997.84, 11.2), (1997.95, 6.3), (1998.06, 3.3), (1998.17, 1.3),
    (1998.26, -0.5), (1998.37, -0.6), (1998.45, -3.6), (1998.53, -4.6), (1998.62, -5.45), (1998.70, -6.3),
    (1998.82, -5.45), (1998.90, -5.25), (1998.99, -5.45), (1999.07, -4.0), (1999.15, -3.0), (1999.28, -2.2),
    (1999.36, -2.8), (1999.44, -3.4), (1999.52, -3.6), (1999.60, -4.6), (1999.69, -7.3), (1999.77, -7.9),
    (1999.85, -9.1), (1999.93, -9.5), (2000.02, -7.1), (2000.10, -5.05), (2000.20, -3.6), (2000.31, -2.2),
    (2000.43, -3.0), (2000.51, -3.4), (2000.59, -3.6), (2000.68, -5.85), (2000.80, -5.65), (2000.88, -5.25),
    (2000.97, -3.0), (2001.09, -0.2), (2001.21, 0.6), (2001.30, 1.2), (2001.42, 0.2), (2001.54, -0.2),
    (2001.62, 2.25), (2001.75, 3.9), (2001.87, 5.5), (2001.99, 4.1), (2002.12, 2.25), (2002.24, 1.0),
    (2002.37, 3.9), (2002.49, 6.1), (2002.61, 8.7), (2002.70, 9.1), (2002.78, 8.9), (2002.90, 7.7),
    (2003.03, 5.9), (2003.15, 2.65), (2003.27, -0.4), (2003.40, -0.6), (2003.52, -1.2), (2003.64, -1.6),
    (2003.77, 0.2), (2003.89, 1.0), (2004.01, 2.0), (2004.14, 2.25), (2004.26, 2.65), (2004.38, 2.0),
    (2004.51, 1.8), (2004.63, 1.8), (2004.76, 1.4), (2004.84, 3.9), (2004.96, 3.7), (2005.08, 3.1),
    (2005.21, 3.1), (2005.33, 1.0), (2005.46, 0.2), (2005.58, -1.0), (2005.69, -3.2), (2005.79, -3.4),
    (2005.89, -3.8), (2005.99, -2.2), (2006.12, -0.6), (2006.24, -0.2), (2006.36, 0.6), (2006.49, 1.8),
    (2006.61, 3.5), (2006.71, 5.1), (2006.82, 4.3), (2006.94, 2.65), (2007.06, 1.4), (2007.19, -0.6),
    (2007.31, -1.8), (2007.43, -2.8), (2007.56, -3.8), (2007.68, -4.2), (2007.80, -5.45), (2007.93, -6.5),
    (2008.05, -6.7), (2008.17, -4.4), (2008.30, -2.6), (2008.42, -1.4), (2008.55, -2.0), (2008.67, -3.0),
    (2008.79, -3.6), (2008.92, -3.2), (2009.04, -2.2), (2009.16, 0.0), (2009.33, 1.4), (2009.49, 2.65),
    (2009.62, 3.9), (2009.74, 7.5), (2009.86, 10.96), (2009.95, 10.35), (2010.03, 9.1), (2010.11, 5.1),
    (2010.23, -1.0), (2010.36, -4.6), (2010.48, -6.7), (2010.59, -7.2), (2010.71, -9.3), (2010.83, -10.7),
    (2010.96, -10.1), (2011.04, -9.1), (2011.16, -5.05), (2011.24, -2.4), (2011.37, -1.4), (2011.49, -1.1),
    (2011.61, -2.2), (2011.74, -5.05), (2011.86, -8.1), (2011.94, -7.1), (2012.02, -5.05), (2012.15, -2.6),
    (2012.27, 0.6), (2012.39, 1.0), (2012.52, 1.2), (2012.64, 0.8), (2012.76, 0.2), (2012.88, -0.2),
    (2013.01, -0.8), (2013.13, -0.8), (2013.25, -1.8), (2013.34, -2.4), (2013.46, -2.5), (2013.58, -2.8),
    (2013.70, -2.8), (2013.83, -1.6), (2013.95, 1.0), (2014.07, 3.06), (2014.16, 4.07), (2014.24, 3.67),
    (2014.32, 1.0), (2014.44, -0.6), (2014.57, -1.4), (2014.69, -1.6), (2014.81, -1.0), (2014.93, 2.05),
    (2015.06, 4.7), (2015.18, 6.7), (2015.30, 7.3), (2015.39, 7.7), (2015.51, 9.54), (2015.63, 11.77),
    (2015.75, 14.4), (2015.85, 15.2), (2015.96, 14.6), (2016.04, 13.6), (2016.12, 9.1), (2016.25, 3.06),
    (2016.37, -1.0), (2016.49, -3.8), (2016.62, -5.05), (2016.74, -5.25), (2016.86, -6.05), (2016.94, -6.05),
    (2017.03, -5.05), (2017.15, -3.0), (2017.27, 0.2), (2017.35, 0.6), (2017.44, -0.6), (2017.56, -2.2),
    (2017.64, -4.4),
]

B_CMSAF = [
    (1999.10, -2.8), (1999.19, -1.6), (1999.29, -1.1), (1999.40, -1.2), (1999.52, -2.2), (1999.60, -2.6),
    (1999.69, -4.0), (1999.77, -5.45), (1999.85, -6.9), (1999.94, -8.7), (2000.02, -9.8), (2000.10, -7.1),
    (2000.20, -6.1), (2000.31, -4.2), (2000.39, -3.0), (2000.47, -3.2), (2000.55, -3.8), (2000.64, -4.2),
    (2000.72, -5.45), (2000.80, -6.8), (2000.88, -6.3), (2000.99, -6.3), (2001.09, -3.0), (2001.21, -0.4),
    (2001.34, 0.2), (2001.44, -0.2), (2001.54, -0.6), (2001.66, 1.0), (2001.79, 3.5), (2001.91, 5.3),
    (2001.99, 5.1), (2002.08, 3.5), (2002.16, 2.25), (2002.24, 1.2), (2002.32, 1.0), (2002.41, 2.45),
    (2002.53, 5.1), (2002.65, 6.3), (2002.74, 8.3), (2002.82, 9.0), (2002.94, 8.3), (2003.03, 7.3),
    (2003.11, 5.1), (2003.19, 3.1), (2003.31, -0.2), (2003.44, -0.6), (2003.56, -1.0), (2003.73, -1.6),
    (2003.81, 0.0), (2003.89, 0.2), (2004.01, 1.8), (2004.14, 1.8), (2004.30, 2.85), (2004.43, 1.8),
    (2004.51, 2.0), (2004.63, 1.6), (2004.76, 1.8), (2004.88, 3.9), (2005.00, 3.5), (2005.13, 3.3),
    (2005.25, 2.65), (2005.33, 1.2), (2005.46, 0.4), (2005.58, -0.4), (2005.70, -2.2), (2005.83, -3.2),
    (2005.95, -3.4), (2006.07, -2.0), (2006.20, -0.6), (2006.32, -1.0), (2006.44, 0.2), (2006.57, 1.0),
    (2006.69, 3.5), (2006.82, 5.4), (2006.90, 5.1), (2007.02, 3.1), (2007.14, 1.6), (2007.27, -0.6),
    (2007.39, -1.8), (2007.51, -1.8), (2007.64, -3.4), (2007.76, -4.6), (2007.89, -5.45), (2008.01, -6.05),
    (2008.13, -6.3), (2008.22, -6.6), (2008.30, -4.2), (2008.42, -1.6), (2008.55, -1.2), (2008.67, -1.8),
    (2008.75, -2.6), (2008.88, -3.0), (2009.00, -2.2), (2009.12, -1.4), (2009.25, 0.0), (2009.41, 1.4),
    (2009.58, 2.65), (2009.74, 3.9), (2009.86, 7.1), (2009.95, 10.8), (2010.03, 11.7), (2010.09, 11.6),
    (2010.15, 9.5), (2010.23, 5.1), (2010.32, 1.0), (2010.44, -3.0), (2010.56, -5.0), (2010.71, -7.1),
    (2010.83, -8.7), (2010.96, -9.5), (2011.08, -9.1), (2011.16, -7.1), (2011.29, -2.6), (2011.37, -1.6),
    (2011.49, -1.0), (2011.61, -2.0), (2011.74, -4.0), (2011.86, -6.05), (2011.94, -7.5), (2012.02, -6.05),
    (2012.15, -4.0), (2012.27, -0.6), (2012.35, 1.2), (2012.47, 1.4), (2012.60, 1.8), (2012.68, 2.15),
    (2012.76, 1.2), (2012.88, 0.8), (2013.01, 0.2), (2013.13, -0.4), (2013.25, -1.0), (2013.38, -2.0),
    (2013.50, -2.2), (2013.62, -2.6), (2013.75, -2.8), (2013.87, -1.0), (2013.99, 1.4), (2014.11, 3.46),
    (2014.24, 4.2), (2014.32, 2.65), (2014.40, 1.0), (2014.52, 0.0), (2014.65, -0.6), (2014.73, -1.2),
    (2014.85, -0.6), (2014.98, 1.8), (2015.10, 4.5), (2015.22, 6.5), (2015.34, 7.3), (2015.47, 7.9),
    (2015.59, 9.95), (2015.71, 12.6), (2015.84, 15.2), (2015.92, 16.0), (2016.00, 15.6), (2016.10, 14.6),
    (2016.20, 11.2), (2016.33, 5.1), (2016.45, -0.6), (2016.57, -3.0), (2016.70, -4.6), (2016.82, -5.25),
    (2016.94, -5.45), (2017.07, -4.0), (2017.19, -1.0), (2017.31, 0.4), (2017.41, 1.0), (2017.52, -1.0),
    (2017.64, -2.6), (2017.72, -4.0), (2017.80, -5.45), (2017.93, -3.6), (2018.05, -4.2), (2018.17, -4.6),
    (2018.30, -5.25), (2018.42, -4.85), (2018.54, -3.0), (2018.67, -0.6), (2018.79, 1.0), (2018.91, 3.06),
    (2018.99, 6.3), (2019.08, 7.1), (2019.16, 7.7), (2019.24, 7.5), (2019.32, 5.1), (2019.44, 1.8),
    (2019.57, 0.0), (2019.69, -0.6), (2019.77, -0.5),
]

# ---- (c) total minus UMiami total ----
C_NCEI = [
    (1999.10, 1.14), (1999.22, 1.3), (1999.30, 1.25), (1999.43, 1.47), (1999.55, 1.7), (1999.67, 2.03),
    (1999.79, 2.42), (1999.92, 2.25), (2000.04, 1.92), (2000.16, 1.58), (2000.29, 1.25), (2000.41, 0.92),
    (2000.49, 0.75), (2000.62, 1.03), (2000.74, 1.36), (2000.86, 1.64), (2000.99, 1.58), (2001.11, 0.7),
    (2001.23, 0.03), (2001.31, -0.41), (2001.40, -0.96), (2001.48, -0.52), (2001.60, -0.19), (2001.72, -0.85),
    (2001.85, -1.19), (2001.93, -2.4), (2002.01, -3.13), (2002.09, -3.13), (2002.18, -2.5), (2002.26, -2.74),
    (2002.34, -1.85), (2002.42, -1.85), (2002.50, -2.63), (2002.59, -2.85), (2002.67, -2.5), (2002.75, -3.3),
    (2002.83, -3.85), (2002.96, -3.74), (2003.08, -3.3), (2003.16, -1.85), (2003.28, -0.52), (2003.37, 0.48),
    (2003.49, 0.7), (2003.57, 0.86), (2003.67, 0.7), (2003.78, 0.75), (2003.86, -0.08), (2003.94, -0.74),
    (2004.06, -1.41), (2004.19, -1.46), (2004.31, -1.24), (2004.43, -0.96), (2004.52, -0.91), (2004.60, -0.74),
    (2004.72, -0.58), (2004.80, -0.47), (2004.89, -1.24), (2005.01, -1.46), (2005.13, -1.63), (2005.21, -1.41),
    (2005.34, -0.52), (2005.46, 0.48), (2005.58, 0.81), (2005.71, 1.58), (2005.83, 1.58), (2005.95, 1.7),
    (2006.08, 1.03), (2006.20, 0.37), (2006.32, -0.08), (2006.40, -0.52), (2006.49, -0.3), (2006.57, -0.85),
    (2006.69, -1.08), (2006.77, -1.52), (2006.90, -1.9), (2006.98, -1.63), (2007.10, -1.57), (2007.23, -0.74),
    (2007.35, 0.25), (2007.47, 1.25), (2007.59, 1.92), (2007.72, 2.36), (2007.84, 2.36), (2007.96, 2.14),
    (2008.09, 1.58), (2008.21, 0.98), (2008.33, 0.98), (2008.46, 0.81), (2008.58, 1.25), (2008.70, 1.7),
    (2008.78, 1.47), (2008.91, 1.47), (2009.03, 1.36), (2009.15, 0.7), (2009.28, 0.37), (2009.40, -0.63),
    (2009.56, -0.96), (2009.69, -1.41), (2009.81, -2.4), (2009.93, -3.5), (2010.02, -4.29), (2010.10, -4.4),
    (2010.18, -3.5), (2010.30, -0.74), (2010.43, 1.47), (2010.55, 2.69), (2010.67, 2.97), (2010.79, 2.8),
    (2010.91, 2.36), (2011.04, 2.14), (2011.16, 1.03), (2011.29, 0.14), (2011.41, -0.52), (2011.53, -0.3),
    (2011.65, 0.59), (2011.78, 1.69), (2011.90, 2.08), (2012.02, 1.69), (2012.15, 1.14), (2012.27, 0.14),
    (2012.35, -0.19), (2012.47, -0.19), (2012.60, -0.14), (2012.72, 0.47), (2012.84, 0.36), (2012.97, 0.2),
    (2013.09, 0.14), (2013.21, 0.36), (2013.34, 0.81), (2013.46, 1.25), (2013.54, 1.2), (2013.75, nan),
    (2013.99, 0.47), (2014.07, -0.97), (2014.20, -1.52), (2014.32, -2.02), (2014.40, -1.74), (2014.48, -0.52),
    (2014.61, 0.03), (2014.73, 0.36), (2014.85, 0.25), (2014.98, -0.52), (2015.10, -1.19), (2015.22, -1.85),
    (2015.30, -3.41), (2015.43, -3.74), (2015.55, -3.85), (2015.67, -3.74), (2015.75, -4.63), (2015.88, -4.96),
    (2016.00, -5.57), (2016.08, -5.4), (2016.16, -4.07), (2016.29, -2.52), (2016.41, -0.74), (2016.49, 0.36),
    (2016.62, 1.14), (2016.74, 1.2), (2016.86, 1.25), (2016.98, 0.92), (2017.11, 0.36), (2017.23, -0.19),
    (2017.31, -0.52), (2017.39, -0.19), (2017.52, 0.59), (2017.64, 1.03), (2017.76, 1.53), (2017.89, 1.58),
    (2018.01, 1.31), (2018.13, 1.25), (2018.26, 0.47), (2018.38, 0.42), (2018.50, 0.59), (2018.62, 0.7),
    (2018.75, 0.59), (2018.83, 0.03), (2018.95, -1.85), (2019.08, -2.85), (2019.24, -3.3), (2019.32, -2.41),
    (2019.44, -0.86), (2019.57, -0.08), (2019.69, 0.14), (2019.81, 0.03), (2019.94, -0.97), (2020.06, -1.08),
    (2020.18, -0.97), (2020.30, -0.3), (2020.43, 0.81), (2020.55, 1.47), (2020.67, 1.8), (2020.80, 1.97),
]

C_FIDUCEO = [
    (1999.10, 5.47), (1999.18, 5.58), (1999.26, 4.8), (1999.34, 3.03), (1999.47, 3.8), (1999.55, 4.47),
    (1999.59, 3.69), (1999.67, 2.58), (1999.75, 3.03), (1999.84, 3.47), (1999.92, 3.69), (2000.00, 5.02),
    (2000.08, 6.02), (2000.12, 5.35), (2000.21, 4.8), (2000.29, 4.69), (2000.37, 2.91), (2000.41, 1.47),
    (2000.49, 1.8), (2000.57, 3.58), (2000.70, 3.8), (2000.76, 3.36), (2000.82, 5.35), (2000.94, 5.91),
    (2001.03, 7.02), (2001.11, 7.24), (2001.19, 6.46), (2001.27, 4.91), (2001.35, 3.69), (2001.44, 2.36),
    (2001.52, 4.36), (2001.60, 7.13), (2001.68, 7.24), (2001.77, 5.69), (2001.81, 7.57), (2001.89, 7.35),
    (2001.93, 7.02), (2002.01, 4.8), (2002.09, 2.8), (2002.18, 5.24), (2002.26, 3.13), (2002.38, 5.69),
    (2002.46, 6.35), (2002.57, 5.91), (2002.67, 7.9), (2002.75, 6.02), (2002.83, 5.69), (2002.91, 5.58),
    (2003.00, 4.8), (2003.08, 2.91), (2003.16, 2.36), (2003.24, 3.03), (2003.33, 1.69), (2003.41, 3.47),
    (2003.57, 5.02), (2003.69, 7.13), (2003.78, 6.79), (2003.86, 7.57), (2003.98, 8.02), (2004.06, 5.69),
    (2004.15, 6.57), (2004.23, 5.47), (2004.31, 3.03), (2004.39, 2.25), (2004.47, 4.25), (2004.56, 5.58),
    (2004.64, 5.91), (2004.76, 6.46), (2004.84, 7.9), (2004.93, 5.8), (2005.05, 6.35), (2005.13, 5.35),
    (2005.21, 3.69), (2005.34, 3.47), (2005.42, 2.58), (2005.50, 3.36), (2005.58, 3.25), (2005.66, 2.69),
    (2005.75, 4.8), (2005.83, 5.47), (2005.91, 6.57), (2005.99, 4.8), (2006.08, 5.69), (2006.16, 4.58),
    (2006.24, 3.91), (2006.36, 3.13), (2006.44, 5.13), (2006.57, 6.57), (2006.67, 7.02), (2006.77, 7.13),
    (2006.86, 5.02), (2006.94, 5.58), (2007.02, 4.69), (2007.10, 4.13), (2007.22, 3.47), (2007.31, 3.69),
    (2007.39, 2.36), (2007.47, 2.03), (2007.59, 3.69), (2007.72, 4.8), (2007.80, 4.25), (2007.88, 2.8),
    (2007.96, 4.69), (2008.05, 4.58), (2008.17, 5.91), (2008.25, 3.69), (2008.33, 3.91), (2008.42, 3.36),
    (2008.50, 4.25), (2008.58, 4.13), (2008.70, 4.02), (2008.78, 4.69), (2008.87, 6.13), (2008.95, 5.91),
    (2009.03, 5.24), (2009.11, 5.13), (2009.20, 6.02), (2009.32, 3.91), (2009.40, 4.36), (2009.57, 5.58),
    (2009.65, 6.79), (2009.73, 8.9), (2009.85, 9.07), (2009.93, 8.35), (2010.02, 5.91), (2010.10, 3.03),
    (2010.18, 0.81), (2010.30, -0.02), (2010.39, 0.14), (2010.47, 1.69), (2010.55, 2.36), (2010.63, 2.58),
    (2010.71, 2.36), (2010.80, 2.8), (2010.88, 3.47), (2010.96, 5.02), (2011.08, 5.24), (2011.15, 7.02),
    (2011.24, 7.52), (2011.31, 5.91), (2011.37, 4.47), (2011.45, 3.03), (2011.53, 2.69), (2011.61, 3.36),
    (2011.70, 3.47), (2011.78, 3.03), (2011.86, 2.69), (2011.90, 4.8), (2011.94, 6.13), (2012.02, 6.24),
    (2012.08, 5.35), (2012.15, 6.13), (2012.27, 7.57), (2012.35, 3.8), (2012.43, 3.36), (2012.52, 5.02),
    (2012.60, 5.02), (2012.68, 4.13), (2012.76, 5.91), (2012.84, 5.58), (2012.93, 6.02), (2013.01, 5.02),
    (2013.13, 5.02), (2013.25, 4.47), (2013.34, 1.92), (2013.42, 2.36), (2013.54, 3.25), (2013.75, nan),
    (2013.99, 7.52), (2014.07, 6.35), (2014.16, 6.3), (2014.24, 4.36), (2014.32, 3.03), (2014.40, 2.03),
    (2014.48, 3.25), (2014.57, 3.25), (2014.65, 5.58), (2014.73, 5.02), (2014.81, 5.8), (2014.89, 8.35),
    (2014.98, 8.24), (2015.06, 7.24), (2015.14, 7.35), (2015.22, 5.8), (2015.30, 4.8), (2015.39, 5.24),
    (2015.47, 6.13), (2015.55, 6.91), (2015.63, 8.68), (2015.71, 8.57), (2015.84, 8.74), (2015.92, 7.02),
    (2016.00, 6.57), (2016.08, 3.69), (2016.16, 2.47), (2016.25, 1.03), (2016.37, 0.7), (2016.45, 0.47),
    (2016.53, 1.47), (2016.66, 3.36), (2016.78, 4.69), (2016.90, 4.47), (2016.98, 6.35), (2017.11, 6.13),
    (2017.19, 5.24), (2017.25, 7.18), (2017.31, 5.02), (2017.39, 1.8), (2017.48, 2.58), (2017.60, 3.36),
    (2017.68, 2.47),
]

C_CMSAF = [
    (1999.10, 5.13), (1999.22, 6.02), (1999.34, 6.35), (1999.47, 6.52), (1999.55, 5.91), (1999.63, 4.8),
    (1999.71, 3.91), (1999.79, 3.03), (1999.88, 2.47), (2000.00, 2.36), (2000.12, 2.58), (2000.25, 2.75),
    (2000.37, 2.86), (2000.49, 2.92), (2000.62, 2.47), (2000.74, 2.3), (2000.86, 2.69), (2000.99, 3.36),
    (2001.11, 3.91), (2001.23, 3.91), (2001.35, 3.69), (2001.48, 3.58), (2001.60, 3.69), (2001.72, 3.8),
    (2001.81, 4.02), (2001.93, 4.47), (2002.05, 4.63), (2002.18, 4.47), (2002.30, 4.02), (2002.42, 3.91),
    (2002.55, 4.13), (2002.67, 4.13), (2002.79, 4.36), (2002.91, 4.58), (2003.04, 4.74), (2003.16, 4.74),
    (2003.28, 4.36), (2003.41, 3.91), (2003.53, 3.69), (2003.65, 3.63), (2003.78, 4.13), (2003.90, 4.47),
    (2004.06, 4.69), (2004.19, 4.58), (2004.31, 4.47), (2004.43, 4.47), (2004.56, 4.36), (2004.68, 4.3),
    (2004.80, 4.36), (2004.93, 4.69), (2005.05, 4.8), (2005.17, 4.58), (2005.30, 4.36), (2005.42, 4.02),
    (2005.54, 3.69), (2005.71, 3.41), (2005.83, 3.63), (2005.95, 3.91), (2006.08, 4.13), (2006.20, 4.19),
    (2006.32, 4.19), (2006.44, 4.13), (2006.57, 4.25), (2006.69, 4.36), (2006.81, 4.63), (2006.90, 4.8),
    (2007.02, 4.58), (2007.14, 4.36), (2007.27, 4.02), (2007.39, 3.8), (2007.51, 3.63), (2007.64, 3.63),
    (2007.76, 3.69), (2007.88, 3.63), (2008.00, 3.74), (2008.13, 3.63), (2008.25, 3.69), (2008.37, 3.91),
    (2008.50, 3.97), (2008.62, 4.02), (2008.74, 4.02), (2008.87, 4.25), (2008.99, 4.58), (2009.11, 4.74),
    (2009.24, 4.8), (2009.36, 4.8), (2009.48, 4.69), (2009.60, 4.86), (2009.73, 5.13), (2009.85, 5.47),
    (2009.98, 5.91), (2010.10, 5.58), (2010.22, 5.13), (2010.35, 4.58), (2010.47, 3.8), (2010.60, 3.25),
    (2010.72, 3.13), (2010.84, 3.08), (2010.96, 3.2), (2011.00, 3.47), (2011.12, 4.02), (2011.24, 4.58),
    (2011.34, 4.8), (2011.45, 4.47), (2011.57, 3.91), (2011.70, 3.8), (2011.82, 3.69), (2011.94, 3.58),
    (2012.06, 4.02), (2012.19, 4.25), (2012.31, 5.02), (2012.43, 4.8), (2012.56, 4.69), (2012.68, 4.47),
    (2012.76, 4.36), (2012.88, 4.69), (2013.01, 4.86), (2013.13, 4.86), (2013.25, 4.58), (2013.38, 4.36),
    (2013.50, 4.08), (2013.75, nan), (2013.99, 4.8), (2014.07, 5.02), (2014.20, 5.08), (2014.32, 5.24),
    (2014.44, 4.8), (2014.57, 4.36), (2014.69, 4.13), (2014.81, 4.47), (2014.93, 4.91), (2015.06, 5.24),
    (2015.18, 5.47), (2015.30, 5.63), (2015.43, 5.74), (2015.55, 5.85), (2015.67, 5.91), (2015.80, 6.02),
    (2015.92, 6.24), (2016.04, 6.35), (2016.16, 6.02), (2016.29, 5.47), (2016.41, 4.8), (2016.53, 4.02),
    (2016.66, 3.58), (2016.78, 3.52), (2016.90, 3.8), (2017.03, 4.25), (2017.15, 4.69), (2017.27, 5.02),
    (2017.35, 5.13), (2017.44, 4.69), (2017.56, 4.13), (2017.68, 3.58), (2017.80, 3.25), (2017.93, 3.8),
    (2018.05, 4.02), (2018.17, 4.08), (2018.30, 4.02), (2018.38, 3.74), (2018.50, 3.91), (2018.62, 4.13),
    (2018.75, 4.36), (2018.87, 4.91), (2018.99, 5.58), (2019.12, 5.74), (2019.24, 5.74), (2019.36, 5.41),
    (2019.48, 4.91), (2019.61, 4.69), (2019.69, 4.47), (2019.77, 4.36),
]

# ---- (d) anomaly minus UMiami anomaly ----
D_NCEI = [
    (1999.10, 1.78), (1999.22, 1.98), (1999.34, 1.85), (1999.47, 1.91), (1999.59, 1.85), (1999.67, 1.91),
    (1999.75, 2.25), (1999.88, 2.52), (2000.00, 2.59), (2000.11, 2.63), (2000.21, 2.32), (2000.29, 2.19),
    (2000.37, 1.78), (2000.45, 1.3), (2000.53, 0.96), (2000.66, 1.07), (2000.78, 1.44), (2000.90, 1.91),
    (2001.01, 2.05), (2001.11, 1.64), (2001.19, 1.24), (2001.27, 0.76), (2001.35, -0.26), (2001.44, -0.53),
    (2001.52, -0.39), (2001.64, -0.26), (2001.72, -0.87), (2001.81, -0.94), (2001.89, -1.61), (2001.97, -2.56),
    (2002.05, -2.43), (2002.14, -2.16), (2002.22, -2.09), (2002.30, -1.34), (2002.38, -1.48), (2002.46, -2.16),
    (2002.55, -2.56), (2002.67, -2.63), (2002.75, -3.31), (2002.83, -3.65), (2002.91, -3.24), (2003.00, -3.04),
    (2003.08, -2.63), (2003.16, -1.61), (2003.24, -0.26), (2003.33, 0.42), (2003.41, 0.89), (2003.49, 0.86),
    (2003.57, 0.89), (2003.65, 0.49), (2003.74, 0.01), (2003.82, -0.12), (2003.90, -0.26), (2003.98, -0.53),
    (2004.06, -0.73), (2004.19, -0.73), (2004.31, -0.67), (2004.43, -0.73), (2004.56, -0.8), (2004.68, -0.8),
    (2004.80, -0.4), (2004.93, -0.73), (2005.05, -0.63), (2005.17, -0.26), (2005.30, 0.01), (2005.42, 0.49),
    (2005.54, 0.76), (2005.67, 0.96), (2005.71, 1.51), (2005.83, 1.57), (2005.91, 1.98), (2005.99, 2.22),
    (2006.08, 1.98), (2006.16, 1.64), (2006.24, 1.24), (2006.32, 0.69), (2006.40, 0.29), (2006.49, -0.12),
    (2006.57, -0.67), (2006.69, -1.07), (2006.81, -1.48), (2006.94, -1.28), (2007.02, -0.73), (2007.14, -0.67),
    (2007.27, 0.01), (2007.39, 0.83), (2007.51, 1.57), (2007.64, 1.71), (2007.76, 2.46), (2007.88, 2.46),
    (2007.96, 2.56), (2008.07, 2.73), (2008.17, 2.32), (2008.25, 1.71), (2008.37, 1.44), (2008.50, 1.03),
    (2008.62, 1.13), (2008.70, 1.64), (2008.83, 1.47), (2008.95, 1.85), (2009.07, 2.01), (2009.20, 1.37),
    (2009.32, 0.56), (2009.44, -0.12), (2009.57, -0.8), (2009.69, -1.21), (2009.81, -1.82), (2009.93, -2.97),
    (2010.02, -3.85), (2010.10, -3.89), (2010.18, -2.97), (2010.30, -0.6), (2010.43, 1.51), (2010.55, 2.66),
    (2010.67, 2.86), (2010.80, 2.86), (2010.92, 2.95), (2011.04, 2.79), (2011.12, 2.25), (2011.20, 1.1),
    (2011.29, 0.62), (2011.37, 0.35), (2011.49, 0.22), (2011.61, 0.9), (2011.74, 1.64), (2011.86, 2.25),
    (2011.94, 2.32), (2012.06, 2.05), (2012.19, 1.3), (2012.31, 0.49), (2012.43, 0.22), (2012.56, 0.01),
    (2012.68, 0.29), (2012.80, 0.35), (2012.93, 0.49), (2013.05, 0.69), (2013.17, 0.83), (2013.29, 1.24),
    (2013.42, 1.64), (2013.54, 1.4), (2013.75, nan), (2013.99, 0.9), (2014.07, -0.19), (2014.20, -1.07),
    (2014.32, -1.44), (2014.44, -0.94), (2014.52, -0.26), (2014.65, 0.08), (2014.77, 0.29), (2014.89, 0.15),
    (2015.02, -0.39), (2015.14, -0.8), (2015.22, -1.61), (2015.30, -2.9), (2015.43, -3.31), (2015.55, -3.85),
    (2015.67, -3.99), (2015.75, -4.8), (2015.88, -4.97), (2016.00, -5.38), (2016.10, -5.01), (2016.16, -3.65),
    (2016.29, -2.29), (2016.41, -0.6), (2016.53, 0.76), (2016.66, 1.03), (2016.78, 1.1), (2016.90, 1.51),
    (2016.98, 1.44), (2017.11, 1.3), (2017.23, 0.62), (2017.35, 0.42), (2017.48, 0.69), (2017.60, 0.96),
    (2017.72, 1.44), (2017.85, 1.71), (2017.93, 1.85), (2018.01, 1.78), (2018.09, 2.01), (2018.17, 1.85),
    (2018.30, 1.37), (2018.38, 0.9), (2018.50, 0.76), (2018.58, 0.69), (2018.71, 0.49), (2018.83, 0.29),
    (2018.95, -0.94), (2019.08, -1.89), (2019.24, -2.39), (2019.32, -1.75), (2019.44, -0.67), (2019.57, 0.01),
    (2019.69, 0.12), (2019.81, 0.05), (2019.94, -0.39), (2020.02, -0.67), (2020.14, -0.46), (2020.26, -0.19),
    (2020.39, 0.96), (2020.51, 1.37), (2020.59, 1.64), (2020.67, 1.71), (2020.80, 1.85),
]

D_FIDUCEO = [
    (1999.10, 0.29), (1999.18, 0.83), (1999.30, 0.62), (1999.38, 0.22), (1999.47, 0.08), (1999.55, 0.69),
    (1999.63, -2.43), (1999.71, -2.43), (1999.79, -2.09), (1999.92, -3.24), (2000.00, -2.16), (2000.08, 0.96),
    (2000.16, -0.39), (2000.25, 0.42), (2000.33, 1.17), (2000.41, -0.26), (2000.49, -1.95), (2000.57, -0.6),
    (2000.66, -1.07), (2000.74, -2.09), (2000.82, -0.33), (2000.94, 0.56), (2001.03, 1.78), (2001.11, 2.05),
    (2001.19, 0.76), (2001.27, 1.3), (2001.35, 0.76), (2001.44, -0.46), (2001.52, 0.22), (2001.60, 2.12),
    (2001.68, 0.76), (2001.77, 1.78), (2001.85, 1.91), (2001.93, 0.96), (2002.01, -0.8), (2002.09, -1.48),
    (2002.18, 0.01), (2002.26, -1.75), (2002.34, 1.51), (2002.46, 2.59), (2002.55, 1.78), (2002.67, 2.8),
    (2002.75, 1.1), (2002.83, 0.42), (2002.91, -0.53), (2003.00, -1.75), (2003.08, -1.82), (2003.16, -2.77),
    (2003.24, -0.94), (2003.33, -1.75), (2003.41, -0.53), (2003.53, 0.01), (2003.65, -0.26), (2003.74, 1.64),
    (2003.82, 0.56), (2003.90, 1.1), (2003.98, 1.71), (2004.06, 0.96), (2004.15, -0.12), (2004.23, 0.69),
    (2004.31, -0.39), (2004.39, 0.56), (2004.47, -0.53), (2004.60, 0.56), (2004.72, -0.26), (2004.80, 2.25),
    (2004.89, -0.39), (2004.97, 0.62), (2005.09, 0.56), (2005.17, -0.26), (2005.25, -1.14), (2005.34, 0.01),
    (2005.46, -0.94), (2005.58, -1.28), (2005.66, -2.36), (2005.75, -0.05), (2005.83, -0.94), (2005.91, -1.41),
    (2005.99, 0.29), (2006.08, -0.26), (2006.16, 0.56), (2006.24, -0.87), (2006.32, 0.83), (2006.40, 0.42),
    (2006.49, 1.44), (2006.57, 1.1), (2006.65, 1.57), (2006.73, 1.64), (2006.81, 0.69), (2006.90, -1.41),
    (2006.98, -0.6), (2007.06, -0.73), (2007.14, -1.48), (2007.23, -0.53), (2007.31, 0.42), (2007.39, -1.07),
    (2007.51, -1.75), (2007.59, -0.94), (2007.72, -0.67), (2007.80, -2.84), (2007.88, -1.68), (2008.00, -1.55),
    (2008.13, -1.14), (2008.21, 1.24), (2008.33, 0.76), (2008.45, 0.35), (2008.58, -0.26), (2008.70, -1.75),
    (2008.78, -0.8), (2008.91, 0.01), (2008.99, -0.8), (2009.07, -0.12), (2009.15, 1.1), (2009.24, 1.24),
    (2009.32, 0.83), (2009.40, 1.24), (2009.52, 0.9), (2009.61, 1.57), (2009.69, 3.13), (2009.81, 3.34),
    (2009.89, 2.86), (2009.98, 0.42), (2010.06, -2.29), (2010.14, -3.65), (2010.22, -4.53), (2010.30, -3.31),
    (2010.43, -2.29), (2010.51, -1.89), (2010.59, -1.95), (2010.67, -2.97), (2010.75, -3.24), (2010.88, -2.16),
    (2010.96, -1.34), (2011.04, -0.67), (2011.12, 0.96), (2011.20, 2.12), (2011.29, 2.8), (2011.37, 1.1),
    (2011.45, 0.96), (2011.49, -1.07), (2011.57, -1.14), (2011.70, -1.95), (2011.78, -2.7), (2011.86, -2.94),
    (2011.94, -0.12), (2012.02, 0.01), (2012.11, 0.56), (2012.19, 1.44), (2012.27, 2.86), (2012.35, 0.29),
    (2012.43, 0.15), (2012.52, 0.69), (2012.60, 0.9), (2012.68, -0.94), (2012.76, 0.01), (2012.84, -0.73),
    (2012.93, -0.12), (2013.01, -1.21), (2013.09, 0.01), (2013.17, -0.39), (2013.25, -0.53), (2013.34, -1.55),
    (2013.42, -0.46), (2013.54, -0.46), (2013.75, nan), (2013.99, 1.1), (2014.07, 1.24), (2014.16, 1.1),
    (2014.24, -0.53), (2014.32, -0.8), (2014.40, -0.39), (2014.48, -0.6), (2014.57, -1.07), (2014.65, 0.42),
    (2014.73, -0.26), (2014.81, 0.29), (2014.89, 2.12), (2014.98, 1.78), (2015.06, 1.58), (2015.14, 2.12),
    (2015.22, 1.64), (2015.30, 1.44), (2015.39, 2.12), (2015.51, 2.73), (2015.59, 2.86), (2015.67, 3.62),
    (2015.75, 3.13), (2015.88, 3.07), (2015.92, 1.78), (2016.00, 0.42), (2016.08, -1.27), (2016.16, -2.29),
    (2016.25, -3.72), (2016.33, -2.29), (2016.41, -2.56), (2016.49, -2.36), (2016.53, -2.9), (2016.62, -1.95),
    (2016.74, -0.8), (2016.82, -1.95), (2016.90, -0.94), (2016.98, -0.26), (2017.07, 1.1), (2017.19, 0.56),
    (2017.25, 2.46), (2017.31, 0.76), (2017.39, -1.07), (2017.48, -0.94), (2017.56, -0.8), (2017.68, -2.6),
]

D_CMSAF = [
    (1999.10, 0.69), (1999.22, 1.44), (1999.34, 2.05), (1999.47, 2.35), (1999.55, 1.78), (1999.63, 0.76),
    (1999.71, -0.39), (1999.79, -1.48), (1999.88, -1.89), (2000.00, -2.02), (2000.08, -2.09), (2000.21, -1.75),
    (2000.33, -1.55), (2000.45, -1.21), (2000.57, -1.48), (2000.70, -1.61), (2000.82, -1.55), (2000.94, -1.21),
    (2001.07, -0.8), (2001.15, -0.46), (2001.27, -0.39), (2001.40, -0.46), (2001.52, -0.33), (2001.64, -0.26),
    (2001.77, -0.12), (2001.89, 0.12), (2002.01, 0.15), (2002.14, 0.08), (2002.26, -0.33), (2002.38, -0.26),
    (2002.50, 0.01), (2002.63, 0.15), (2002.75, 0.29), (2002.87, 0.42), (2003.00, 0.22), (2003.12, 0.32),
    (2003.24, 0.01), (2003.37, -0.26), (2003.49, -0.33), (2003.61, -0.26), (2003.74, -0.05), (2003.86, 0.22),
    (2003.98, 0.25), (2004.10, 0.25), (2004.23, 0.01), (2004.35, 0.15), (2004.47, 0.25), (2004.60, 0.29),
    (2004.72, 0.32), (2004.84, 0.29), (2004.97, 0.39), (2005.09, 0.29), (2005.21, 0.15), (2005.34, -0.05),
    (2005.46, -0.26), (2005.58, -0.33), (2005.71, -0.6), (2005.83, -0.46), (2005.95, -0.53), (2006.08, -0.33),
    (2006.20, -0.26), (2006.32, -0.12), (2006.44, 0.01), (2006.57, 0.22), (2006.69, 0.35), (2006.81, 0.56),
    (2006.90, 0.62), (2006.98, 0.35), (2007.10, 0.01), (2007.23, -0.33), (2007.35, -0.39), (2007.47, -0.36),
    (2007.59, -0.33), (2007.72, -0.33), (2007.84, -0.46), (2007.96, -0.6), (2008.09, -0.73), (2008.21, -0.8),
    (2008.33, -0.53), (2008.46, -0.26), (2008.58, -0.09), (2008.70, -0.05), (2008.83, 0.01), (2008.95, 0.08),
    (2009.07, 0.29), (2009.20, 0.35), (2009.32, 0.49), (2009.44, 0.56), (2009.57, 0.83), (2009.69, 1.03),
    (2009.81, 1.24), (2009.93, 1.44), (2010.02, 1.47), (2010.10, 1.3), (2010.18, 1.03), (2010.30, 0.42),
    (2010.43, -0.26), (2010.51, -0.67), (2010.63, -0.8), (2010.75, -0.87), (2010.88, -1.07), (2010.96, -1.21),
    (2011.08, -0.8), (2011.20, -0.46), (2011.29, 0.01), (2011.41, 0.42), (2011.53, 0.22), (2011.65, -0.12),
    (2011.78, -0.26), (2011.90, -0.6), (2012.02, -0.39), (2012.15, -0.19), (2012.27, 0.56), (2012.39, 0.69),
    (2012.52, 0.69), (2012.64, 0.62), (2012.76, 0.56), (2012.88, 0.49), (2013.01, 0.56), (2013.13, 0.49),
    (2013.25, 0.22), (2013.38, 0.01), (2013.50, -0.09), (2013.75, nan), (2013.99, 0.42), (2014.11, 0.62),
    (2014.28, 0.83), (2014.40, 0.69), (2014.52, 0.42), (2014.69, 0.15), (2014.81, 0.29), (2014.93, 0.56),
    (2015.10, 0.9), (2015.26, 1.17), (2015.43, 1.44), (2015.59, 1.71), (2015.71, 1.88), (2015.84, 1.98),
    (2015.96, 1.98), (2016.08, 1.91), (2016.20, 1.57), (2016.33, 0.96), (2016.45, 0.29), (2016.57, -0.26),
    (2016.74, -0.46), (2016.86, -0.39), (2016.98, -0.26), (2017.11, 0.08), (2017.23, 0.42), (2017.35, 0.62),
    (2017.44, 0.56), (2017.56, 0.15), (2017.68, -0.39), (2017.80, -0.8), (2017.93, -0.39), (2018.05, -0.46),
    (2018.17, -0.33), (2018.30, -0.6), (2018.42, -0.33), (2018.54, -0.12), (2018.67, 0.22), (2018.79, 0.56),
    (2018.91, 0.83), (2019.03, 1.17), (2019.16, 1.3), (2019.24, 1.3), (2019.36, 1.03), (2019.48, 0.69),
    (2019.61, 0.62), (2019.69, 0.42), (2019.77, 0.35),
]

SERIES = ["NCEI", "UMIAMI", "FIDUCEO", "CMSAF"]
COLOURS = ["#4e79a7", "#f28e2b", "#e15759", "#76b7b2"]
TITLES = ["(a)  Total", "(b)  Anomaly", "(c)  Difference from UMiami Totals",
          "(d)  Difference from UMiami Anomalies"]


def to_dates(years):
    out = []
    for y in years:
        yr = int(y)
        out.append(dt.datetime(yr, 1, 1) + dt.timedelta(days=(y - yr) * 365.25))
    return out


def unpack(pairs):
    t = to_dates([p[0] for p in pairs])
    v = np.array([p[1] for p in pairs], dtype=float)
    return t, v


# UMiami minus itself is zero wherever UMiami has data
umiami_t = [p[0] for p in A_UMIAMI]
umiami_v = np.array([p[1] for p in A_UMIAMI], dtype=float)
UMIAMI_DIFF = list(zip(umiami_t, umiami_v - umiami_v))

panels = [
    [A_NCEI, A_UMIAMI, A_FIDUCEO, A_CMSAF],
    [B_NCEI, B_UMIAMI, B_FIDUCEO, B_CMSAF],
    [C_NCEI, UMIAMI_DIFF, C_FIDUCEO, C_CMSAF],
    [D_NCEI, UMIAMI_DIFF, D_FIDUCEO, D_CMSAF],
]

plt.rcParams["font.size"] = 9

fig, axes = plt.subplots(4, 1, figsize=(6.89, 8.27), dpi=300, sharex=True)
fig.subplots_adjust(left=0.0905, right=0.99, top=0.967, bottom=0.047, hspace=0.234)

for ax, data, title in zip(axes, panels, TITLES):
    for pairs, name, col in zip(data, SERIES, COLOURS):
        t, v = unpack(pairs)
        ax.plot(t, v, color=col, lw=1.4, label=name)
    ax.set_title(title, loc="left")
    ax.set_ylabel("UTH (%)")

axes[-1].legend(loc="upper left")
axes[-1].xaxis.set_major_locator(mdates.YearLocator(5))
axes[-1].xaxis.set_major_formatter(mdates.DateFormatter("%Y"))
for lab in axes[-1].get_xticklabels():
    lab.set_rotation(30)
    lab.set_ha("right")

fig.savefig("out.png", dpi=300)
